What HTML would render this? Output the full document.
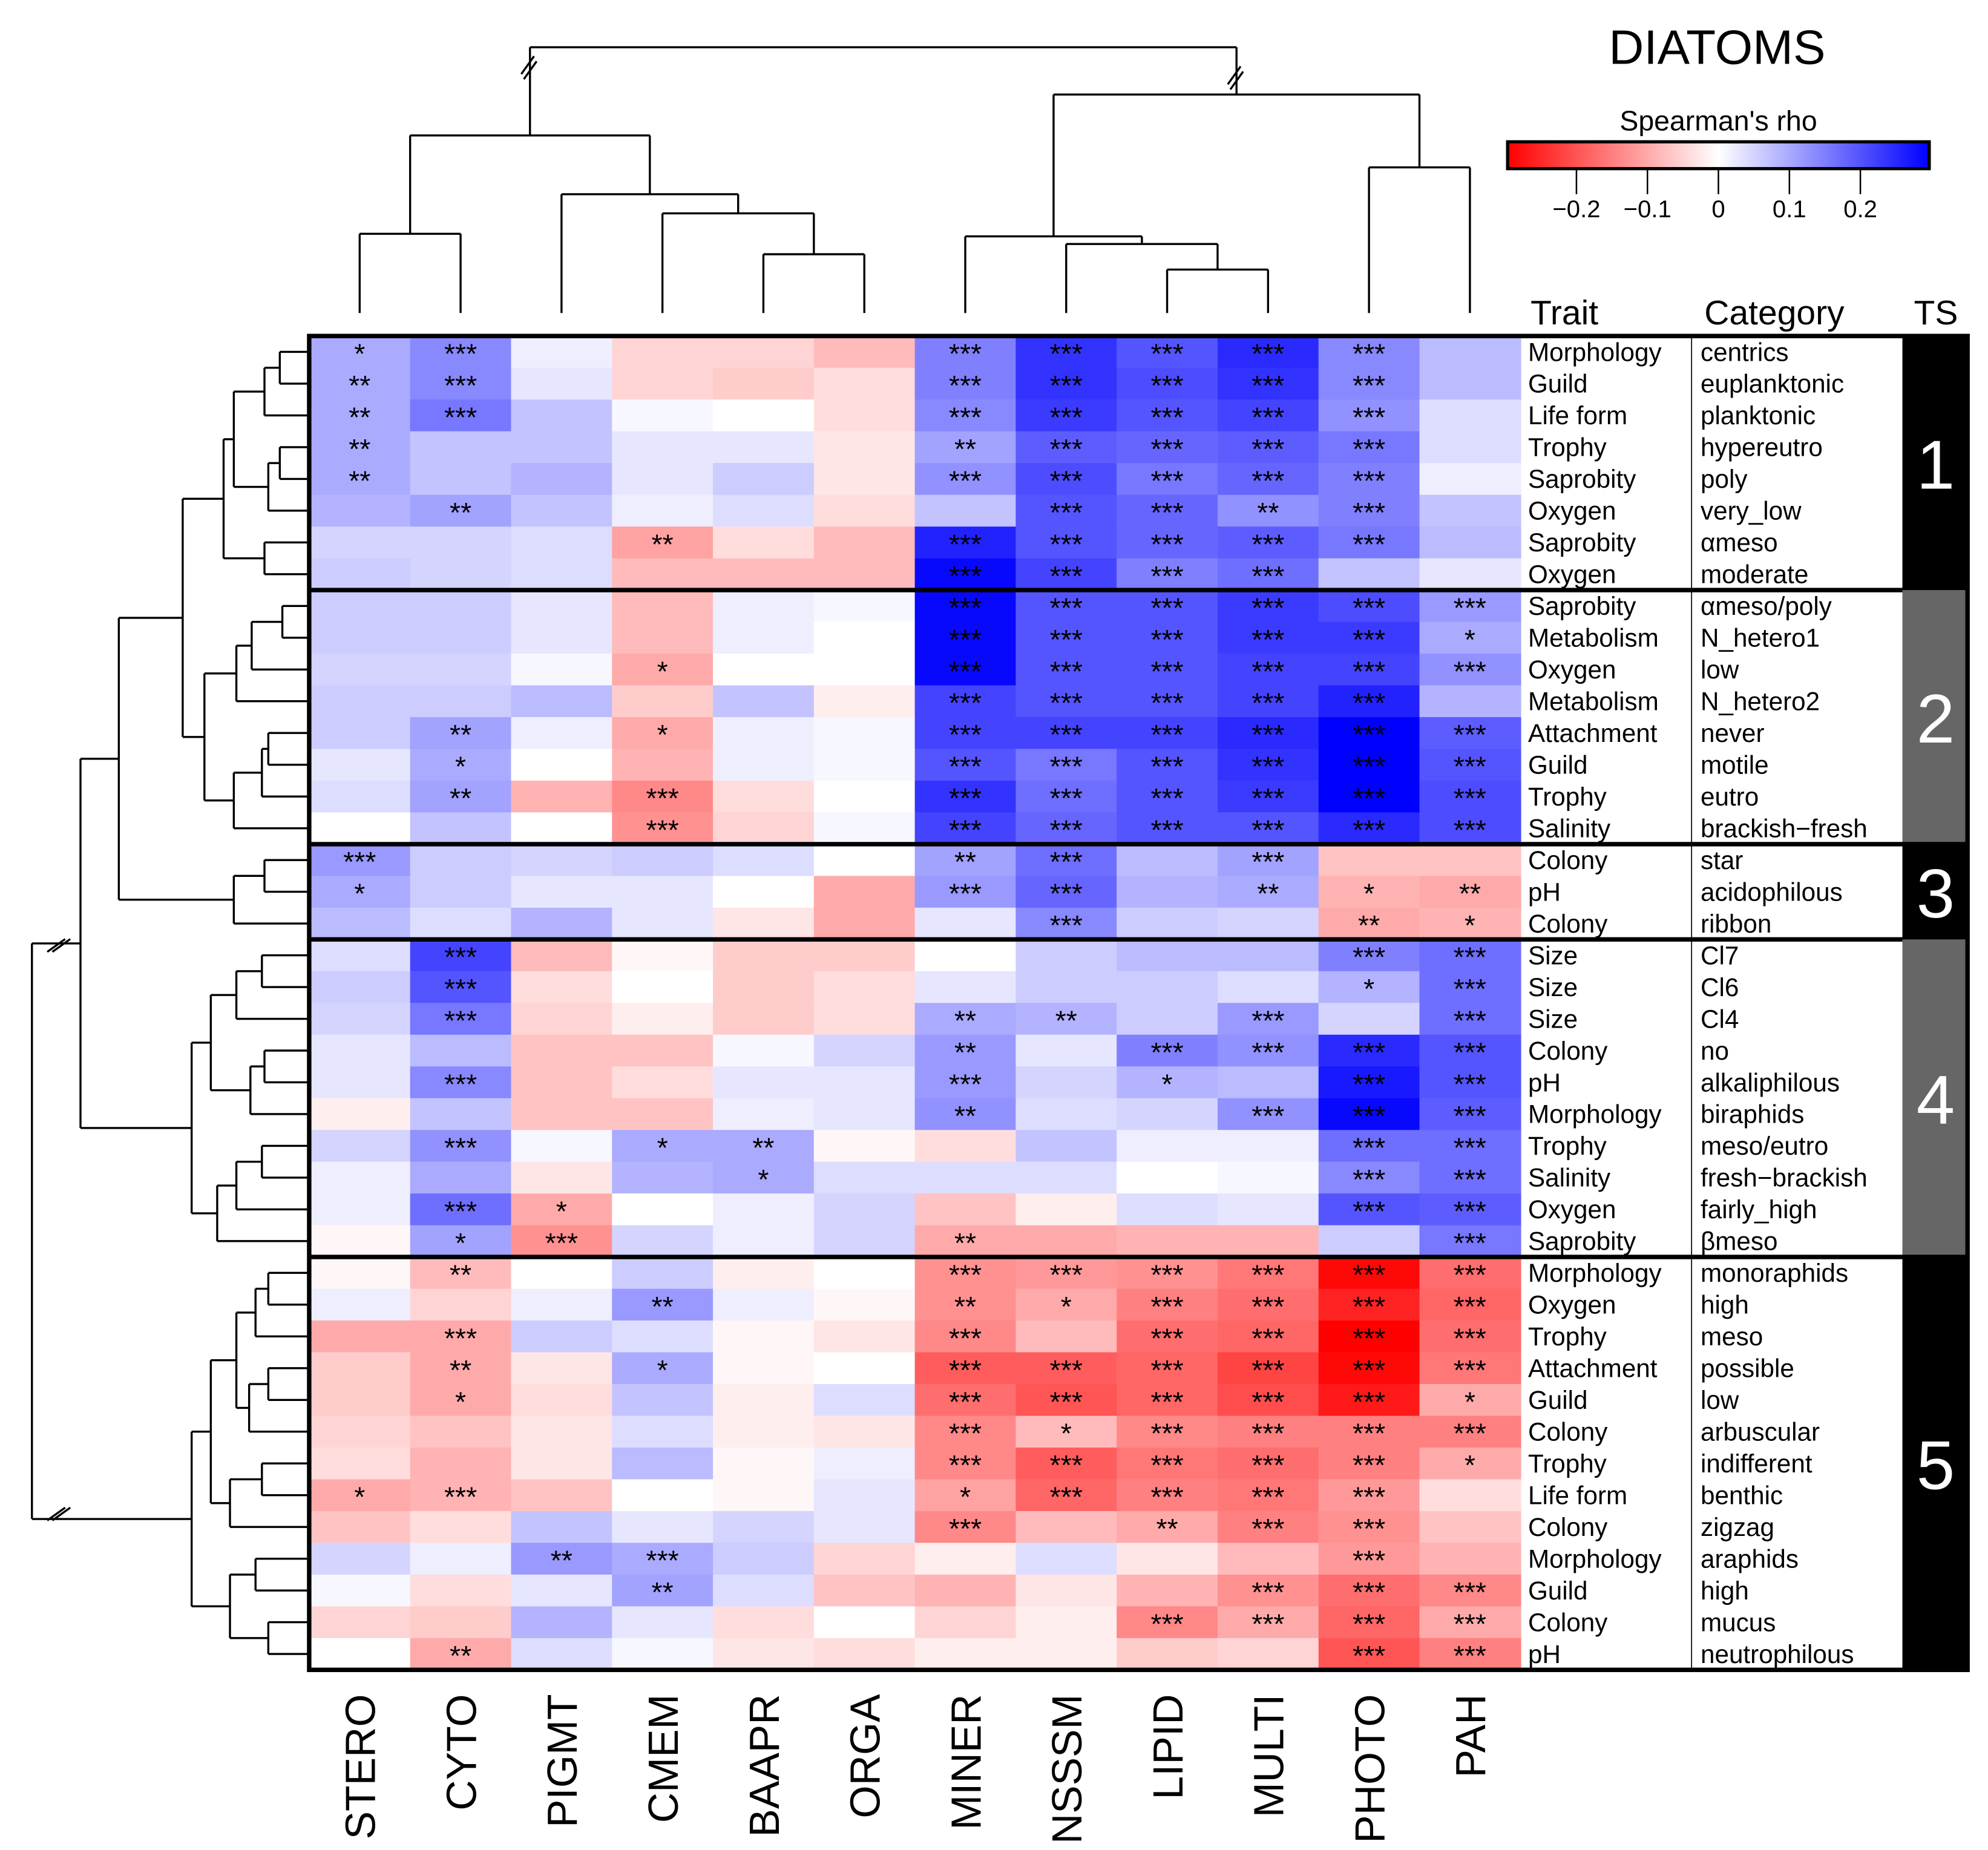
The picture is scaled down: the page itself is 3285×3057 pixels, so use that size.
<!DOCTYPE html>
<html><head><meta charset="utf-8"><style>
html,body{margin:0;padding:0;background:#fff;}
svg{display:block;}
text{font-family:"Liberation Sans",Arial,sans-serif;}
</style></head><body>
<svg id="chart" width="3285" height="3057" viewBox="0 0 1556 1448" preserveAspectRatio="none" xmlns="http://www.w3.org/2000/svg"></svg>
<script>
const columns=["STERO","CYTO","PIGMT","CMEM","BAAPR","ORGA","MINER","NSSSM","LIPID","MULTI","PHOTO","PAH"];
const traits=["Morphology","Guild","Life form","Trophy","Saprobity","Oxygen","Saprobity","Oxygen","Saprobity","Metabolism","Oxygen","Metabolism","Attachment","Guild","Trophy","Salinity","Colony","pH","Colony","Size","Size","Size","Colony","pH","Morphology","Trophy","Salinity","Oxygen","Saprobity","Morphology","Oxygen","Trophy","Attachment","Guild","Colony","Trophy","Life form","Colony","Morphology","Guild","Colony","pH"];
const categories=["centrics","euplanktonic","planktonic","hypereutro","poly","very_low","\u03b1meso","moderate","\u03b1meso/poly","N_hetero1","low","N_hetero2","never","motile","eutro","brackish\u2212fresh","star","acidophilous","ribbon","Cl7","Cl6","Cl4","no","alkaliphilous","biraphids","meso/eutro","fresh\u2212brackish","fairly_high","\u03b2meso","monoraphids","high","meso","possible","low","arbuscular","indifferent","benthic","zigzag","araphids","high","mucus","neutrophilous"];
const groupSizes=[8,8,3,10,13];
const groupLabels=["1","2","3","4","5"];
const rho=[
[0.1,0.14,0.02,-0.05,-0.05,-0.08,0.15,0.24,0.2,0.25,0.14,0.08],
[0.1,0.14,0.03,-0.05,-0.06,-0.04,0.15,0.24,0.21,0.24,0.14,0.08],
[0.1,0.16,0.07,0.01,0.0,-0.04,0.14,0.23,0.2,0.22,0.13,0.04],
[0.1,0.07,0.07,0.03,0.03,-0.03,0.11,0.19,0.18,0.19,0.16,0.04],
[0.1,0.07,0.09,0.03,0.06,-0.03,0.13,0.21,0.16,0.18,0.15,0.02],
[0.09,0.11,0.07,0.02,0.04,-0.04,0.07,0.2,0.18,0.13,0.15,0.07],
[0.05,0.05,0.04,-0.11,-0.04,-0.08,0.26,0.2,0.18,0.19,0.16,0.08],
[0.06,0.05,0.04,-0.08,-0.08,-0.08,0.29,0.22,0.15,0.17,0.07,0.03],
[0.06,0.06,0.03,-0.08,0.02,0.01,0.29,0.2,0.2,0.23,0.21,0.12],
[0.06,0.06,0.03,-0.08,0.02,0.0,0.29,0.2,0.2,0.23,0.23,0.1],
[0.05,0.05,0.01,-0.1,0.0,0.0,0.29,0.2,0.2,0.22,0.22,0.13],
[0.06,0.06,0.08,-0.06,0.07,-0.02,0.22,0.2,0.2,0.22,0.26,0.09],
[0.06,0.11,0.02,-0.1,0.02,0.01,0.22,0.22,0.22,0.25,0.3,0.19],
[0.03,0.1,0.0,-0.09,0.02,0.01,0.2,0.16,0.2,0.24,0.3,0.2],
[0.04,0.11,-0.09,-0.14,-0.04,0.0,0.24,0.17,0.2,0.23,0.3,0.21],
[0.0,0.07,0.0,-0.13,-0.05,0.01,0.22,0.18,0.2,0.2,0.25,0.21],
[0.12,0.06,0.05,0.06,0.04,0.0,0.11,0.17,0.08,0.11,-0.07,-0.07],
[0.1,0.06,0.03,0.03,0.0,-0.1,0.12,0.18,0.09,0.1,-0.09,-0.1],
[0.08,0.04,0.09,0.03,-0.03,-0.1,0.03,0.14,0.06,0.05,-0.1,-0.09],
[0.04,0.22,-0.08,-0.01,-0.06,-0.06,0.0,0.06,0.08,0.08,0.15,0.17],
[0.06,0.2,-0.04,0.0,-0.06,-0.04,0.03,0.06,0.06,0.04,0.09,0.17],
[0.05,0.16,-0.05,-0.02,-0.06,-0.04,0.1,0.09,0.06,0.12,0.05,0.17],
[0.03,0.08,-0.07,-0.07,0.01,0.05,0.12,0.03,0.15,0.13,0.25,0.2],
[0.03,0.14,-0.07,-0.04,0.03,0.03,0.12,0.05,0.09,0.08,0.27,0.2],
[-0.02,0.07,-0.07,-0.07,0.02,0.03,0.13,0.04,0.05,0.13,0.29,0.19],
[0.05,0.13,0.01,0.1,0.1,-0.01,-0.04,0.07,0.02,0.02,0.17,0.17],
[0.02,0.1,-0.03,0.09,0.1,0.04,0.04,0.04,0.0,0.01,0.14,0.17],
[0.02,0.17,-0.1,0.0,0.02,0.05,-0.07,-0.02,0.04,0.03,0.2,0.19],
[-0.01,0.11,-0.13,0.05,0.02,0.05,-0.1,-0.1,-0.09,-0.09,0.06,0.16],
[-0.01,-0.08,0.0,0.06,-0.02,0.0,-0.13,-0.12,-0.13,-0.16,-0.29,-0.17],
[0.02,-0.05,0.02,0.12,0.02,-0.01,-0.13,-0.1,-0.15,-0.17,-0.26,-0.18],
[-0.1,-0.1,0.06,0.04,-0.01,-0.03,-0.14,-0.08,-0.17,-0.18,-0.3,-0.17],
[-0.06,-0.1,-0.03,0.1,-0.01,0.0,-0.19,-0.19,-0.18,-0.22,-0.29,-0.16],
[-0.06,-0.1,-0.04,0.07,-0.02,0.04,-0.17,-0.2,-0.18,-0.21,-0.27,-0.1],
[-0.05,-0.07,-0.03,0.04,-0.02,-0.03,-0.14,-0.08,-0.14,-0.15,-0.15,-0.15],
[-0.04,-0.09,-0.03,0.08,-0.01,0.02,-0.14,-0.19,-0.16,-0.17,-0.15,-0.1],
[-0.1,-0.09,-0.07,0.0,-0.01,0.03,-0.11,-0.18,-0.15,-0.16,-0.12,-0.04],
[-0.07,-0.04,0.07,0.03,0.05,0.03,-0.14,-0.08,-0.1,-0.15,-0.13,-0.07],
[0.05,0.02,0.12,0.1,0.06,-0.05,-0.02,0.04,-0.03,-0.08,-0.12,-0.09],
[0.01,-0.04,0.03,0.11,0.04,-0.07,-0.09,-0.03,-0.09,-0.13,-0.17,-0.14],
[-0.05,-0.06,0.09,0.03,-0.04,0.0,-0.05,-0.02,-0.14,-0.1,-0.18,-0.1],
[0.0,-0.1,0.04,0.01,-0.03,-0.04,-0.02,-0.02,-0.06,-0.05,-0.2,-0.15]];
const stars=["130000333330","230000333330","230000333330","200000233330","200000333330","020000033230","000200333330","000000333300",
"000000333333","000000333331","000100333333","000000333330","020100333333","010000333333","020300333333","000300333333",
"300000230300","100000330212","000000030021",
"030000000033","030000000013","030000220303","000000203333","030000301033","000000200333","030120000033","000010000033","031000000033","013000200003",
"020000333333","000200213333","030000303333","020100333333","010000333331","000000313333","000000333331","130000133330","000000302330","002300000030","000200000333","000000003333","020000000033"];
const legendTicks=[-0.2,-0.1,0,0.1,0.2];
const legendTickLabels=["\u22120.2","\u22120.1","0","0.1","0.2"];
const colTree=[[[0,1,183],[2,[3,[4,5,199],167],152],106],[[6,[7,[8,9,211],191],185],[10,11,131],74],37];
const g1=[[[[0,1,219],2,207],[[3,4,219],5,210],183],[6,7,207],175];
const g2=[[[[8,9,221],10,197],11,185],[[[12,13,210],14,205],15,183],160];
const g3=[[16,17,207],18,183];
const g4=[[[[19,20,205],21,185],[[22,23,207],24,196],165],[[[25,26,205],27,185],28,170],150];
const g5=[[[[[29,30,210],31,200],[[32,33,210],34,195],185],[[35,36,205],37,180],165],[[38,39,200],[40,41,210],180],150];
const rowTree=[[[[g1,g2,143],g3,93],g4,63],g5,25];

const svg=document.getElementById('chart');
const NS='http://www.w3.org/2000/svg';
function mk(tag,attrs,parent){const e=document.createElementNS(NS,tag);for(const k in attrs)e.setAttribute(k,attrs[k]);(parent||svg).appendChild(e);return e;}
const X0=242,X1=1190,Y0=263,Y1=1307;
const nR=traits.length,nC=columns.length;
const cw=(X1-X0)/nC,rh=(Y1-Y0)/nR;
const xC=i=>X0+i*cw, yR=j=>Y0+j*rh;
const VMAX=0.3;
function color(v){let t=Math.max(-1,Math.min(1,v/VMAX));const a=Math.abs(t);const w=Math.round(255*(1-a));return t<0?`rgb(255,${w},${w})`:`rgb(${w},${w},255)`;}
const cells=mk('g',{});


for(let j=0;j<nR;j++)for(let i=0;i<nC;i++){
 const r=mk('rect',{x:xC(i),y:yR(j),width:cw+0.6,height:rh+0.6,fill:color(rho[j][i])},cells);
 
 
 const s=+stars[j][i];
 if(s>0){const t=mk('text',{x:xC(i)+cw/2,y:yR(j)+rh/2+9,'text-anchor':'middle','font-size':22},cells);t.textContent='*'.repeat(s);
 
 }
}
const lab=mk('g',{});


mk('line',{x1:1324,y1:Y0,x2:1324,y2:Y1,stroke:'#000','stroke-width':0.8},lab);
for(let j=0;j<nR;j++){
 const t=mk('text',{x:1196,y:yR(j)+rh/2+7,'font-size':20},lab);t.textContent=traits[j];
 
 
 const c=mk('text',{x:1331,y:yR(j)+rh/2+7,'font-size':20},lab);c.textContent=categories[j];
 
 
}
const h1=mk('text',{x:1198,y:254,'font-size':27},lab);h1.textContent='Trait';


const h2=mk('text',{x:1334,y:254,'font-size':27},lab);h2.textContent='Category';


const h3=mk('text',{x:1498,y:254,'font-size':27},lab);h3.textContent='TS';


let acc=0;
groupSizes.forEach((n,g)=>{
 const ya=yR(acc),yb=yR(acc+n);
 const b=mk('rect',{x:1489,y:ya,width:51,height:yb-ya,fill:g%2?'#666':'#000'});
 
 
 const t=mk('text',{x:1515,y:(ya+yb)/2+20,'text-anchor':'middle','font-size':54,fill:'#fff'});t.textContent=groupLabels[g];
 
 
 acc+=n;
 if(g<groupSizes.length-1){const l=mk('line',{x1:X0,y1:yb,x2:1540,y2:yb,stroke:'#000','stroke-width':3.5});
 
 }
});
const fr=mk('rect',{x:X0,y:Y0,width:1540-X0,height:Y1-Y0,fill:'none',stroke:'#000','stroke-width':3.5});


columns.forEach((c,i)=>{const x=xC(i)+cw/2+12;const t=mk('text',{x:x,y:1326,'font-size':33,'text-anchor':'end',transform:`rotate(-90 ${x} 1326)`});t.textContent=c;
 
 });
const dg=mk('g',{stroke:'#000','stroke-width':1.6,fill:'none'});


function line(a,b,c,d){mk('line',{x1:a,y1:b,x2:c,y2:d},dg);}
function drawCol(n){ if(typeof n==='number')return {x:xC(n)+cw/2,y:245};
 const L=drawCol(n[0]),R=drawCol(n[1]),h=n[2];line(L.x,L.y,L.x,h);line(R.x,R.y,R.x,h);line(L.x,h,R.x,h);return {x:(L.x+R.x)/2,y:h};}
drawCol(colTree);
function drawRow(n){ if(typeof n==='number')return {y:yR(n)+rh/2,x:241};
 const L=drawRow(n[0]),R=drawRow(n[1]),h=n[2];line(L.x,L.y,h,L.y);line(R.x,R.y,h,R.y);line(h,L.y,h,R.y);return {y:(L.y+R.y)/2,x:h};}
drawRow(rowTree);
[[414,50],[967,58]].forEach(p=>{mk('line',{x1:p[0]-6,y1:p[1]+8,x2:p[0]+4,y2:p[1]-6},dg);mk('line',{x1:p[0]-4,y1:p[1]+12,x2:p[0]+6,y2:p[1]-2},dg);});
[[45,740],[45,1185]].forEach(p=>{mk('line',{x1:p[0]-8,y1:p[1]+5,x2:p[0]+6,y2:p[1]-5},dg);mk('line',{x1:p[0]-4,y1:p[1]+5,x2:p[0]+10,y2:p[1]-5},dg);});
const ti=mk('text',{x:1344,y:50,'text-anchor':'middle','font-size':38});ti.textContent='DIATOMS';


const lt=mk('text',{x:1345,y:102,'text-anchor':'middle','font-size':22});lt.textContent="Spearman's rho";


const defs=mk('defs',{});const gr=mk('linearGradient',{id:'lg',x1:0,x2:1,y1:0,y2:0},defs);
[[0,'#ff0000'],[0.5,'#ffffff'],[1,'#0000ff']].forEach(s=>mk('stop',{offset:s[0],'stop-color':s[1]},gr));
const LX0=1180,LX1=1510,LV=0.297;
const lx=v=>LX0+(v+LV)/(2*LV)*(LX1-LX0);
const lb=mk('rect',{x:LX0,y:111,width:LX1-LX0,height:21,fill:'url(#lg)',stroke:'#000','stroke-width':2.5});


legendTicks.forEach((v,k)=>{mk('line',{x1:lx(v),y1:132,x2:lx(v),y2:152,stroke:'#000','stroke-width':1.2});
 const t=mk('text',{x:lx(v),y:170,'text-anchor':'middle','font-size':19});t.textContent=legendTickLabels[k];
 
 });
</script>
</body></html>
